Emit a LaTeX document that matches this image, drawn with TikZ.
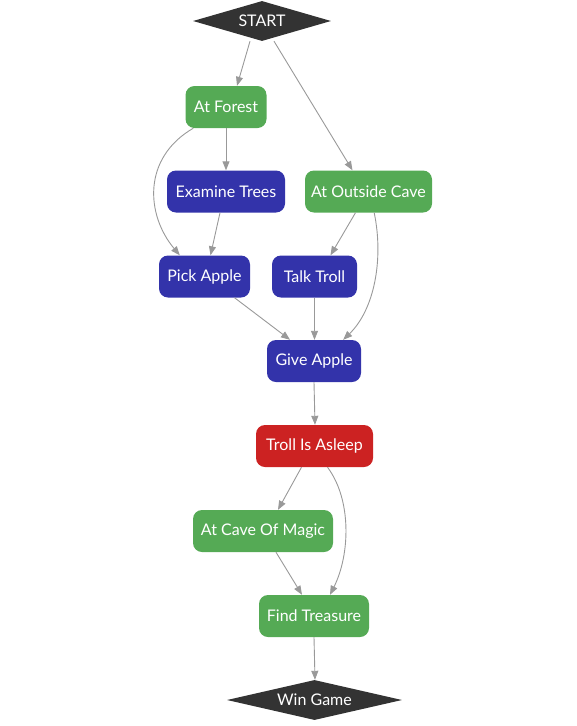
\documentclass[tikz,border=0pt]{standalone}
\usepackage{fontspec}
\setmainfont{Lato}
\usetikzlibrary{shapes.geometric,arrows.meta}
\definecolor{gnode}{HTML}{55AA55}
\definecolor{bnode}{HTML}{3333AA}
\definecolor{rnode}{HTML}{CC2222}
\definecolor{dnode}{HTML}{333333}
\definecolor{edgec}{HTML}{999999}
\tikzset{
  x=1pt,y=-1pt,
  box/.style={rounded corners=9pt,minimum height=42pt,inner sep=0pt,text=white,font=\fontsize{16}{19}\selectfont,draw=none},
  gbox/.style={box,fill=gnode},
  bbox/.style={box,fill=bnode},
  rbox/.style={box,fill=rnode},
  dia/.style={diamond,aspect=3.45,inner sep=0pt,fill=dnode,text=white,font=\fontsize{16}{19}\selectfont},
  edge/.style={draw=edgec,line width=0.9pt,-{Triangle[length=9pt,width=7pt]}},
}
\begin{document}
\begin{tikzpicture}
\useasboundingbox (0,0) rectangle (576,726);
\node[dia,minimum width=138pt,minimum height=40pt] (start) at (262,21) {START};
\node[gbox,minimum width=81pt] (af) at (226,107) {At Forest};
\node[bbox,minimum width=118pt] (et) at (226,191.5) {Examine Trees};
\node[gbox,minimum width=127pt] (oc) at (368.5,191.5) {At Outside Cave};
\node[bbox,minimum width=91pt] (pa) at (204.5,276.5) {Pick Apple};
\node[bbox,minimum width=85pt] (tt) at (314.5,276.5) {Talk Troll};
\node[bbox,minimum width=94pt] (ga) at (314,361) {Give Apple};
\node[rbox,minimum width=117pt] (ta) at (314.5,446) {Troll Is Asleep};
\node[gbox,minimum width=140pt] (cm) at (263,531) {At Cave Of Magic};
\node[gbox,minimum width=110pt] (ft) at (314,616) {Find Treasure};
\node[dia,minimum width=175pt,minimum height=40pt] (win) at (314.5,700) {Win Game};

\draw[edge] ([xshift=-12pt]start.south) -- ([xshift=11pt]af.north);
\draw[edge] ([xshift=12pt]start.south) -- ([xshift=-16pt]oc.north);
\draw[edge] (af.south) -- (et.north);
\draw[edge] ([xshift=8pt]af.south west) .. controls (142,158) and (146,215) .. ([xshift=21pt]pa.north west);
\draw[edge] ([xshift=-6pt]et.south) -- ([xshift=6pt]pa.north);
\draw[edge] ([xshift=-13pt]oc.south) -- ([xshift=16pt]tt.north);
\draw[edge] ([xshift=-58pt]oc.south east) .. controls (384,260) and (374,310) .. ([xshift=-18pt]ga.north east);
\draw[edge] ([xshift=30pt]pa.south) -- ([xshift=-24pt]ga.north);
\draw[edge] (tt.south) -- ([xshift=0.5pt]ga.north);
\draw[edge] (ga.south) -- ([xshift=0.5pt]ta.north);
\draw[edge] ([xshift=-13pt]ta.south) -- ([xshift=15pt]cm.north);
\draw[edge] ([xshift=13pt]ta.south) .. controls (352,500) and (350,555) .. ([xshift=16pt]ft.north);
\draw[edge] ([xshift=13pt]cm.south) -- ([xshift=-12pt]ft.north);
\draw[edge] (ft.south) -- ([xshift=0.5pt]win.north);
\end{tikzpicture}
\end{document}
